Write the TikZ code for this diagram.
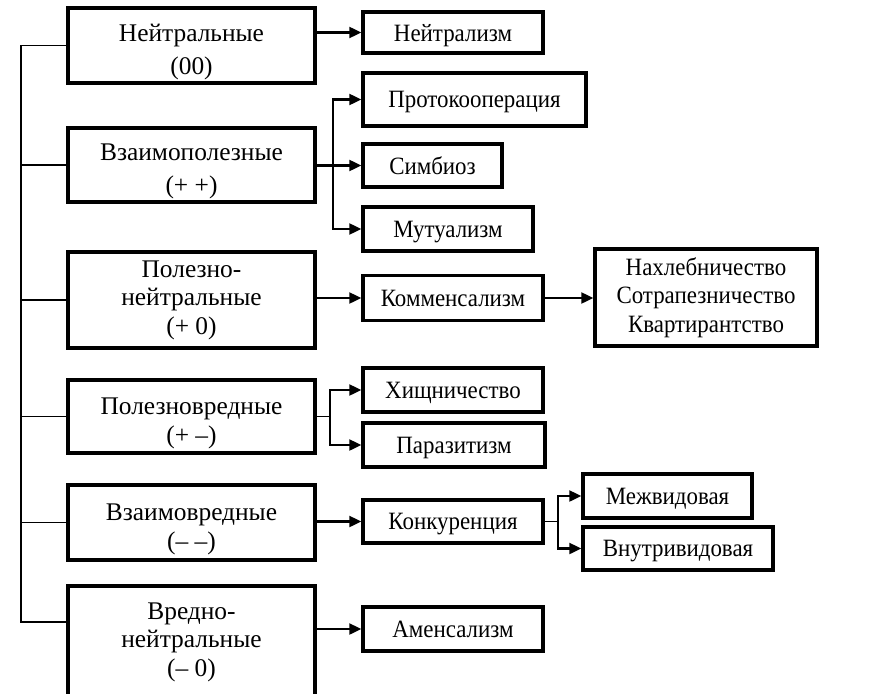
\documentclass[tikz,border=0pt]{standalone}
\usepackage{fontspec}
\setmainfont{Liberation Serif}
\newfontfamily\leaffont[FakeStretch=0.92]{Liberation Serif}
\usetikzlibrary{arrows.meta}

\newcommand\boxpad{\rule{0pt}{30bp}}

\tikzset{
  box/.style={draw, line width=3.5bp, align=center, inner sep=0pt,
    font=\leaffont\fontsize{25}{28.5}\selectfont},
  leaf/.style={box, text depth=0pt},
  typebox/.style={box, minimum width=247bp, font=\rmfamily\fontsize{25.5}{28.5}\selectfont},
  arr/.style={line width=2.4bp, -{Triangle[length=12bp,width=11bp]}},
  fork/.style={line width=1.5bp},
  trunk/.style={line width=1.4bp},
}

\begin{document}
\begin{tikzpicture}[x=1bp, y=-1bp]
    \useasboundingbox (0,0) rectangle (885,694);

    % left column: types of interaction
    \node[typebox, minimum height=75bp] (neutral) at (191.5,45.5) {\boxpad Нейтральные\\[5bp](00)};
    \node[typebox, minimum height=74bp] (mutual) at (191.5,165) {\boxpad Взаимополезные\\[5bp](+ +)};
    \node[typebox, minimum height=96bp] (posneut) at (191.5,300) {Полезно-\\нейтральные\\(+ 0)};
    \node[typebox, minimum height=73bp] (posneg) at (191.5,416.5) {\boxpad Полезновредные\\[1bp](+ –)};
    \node[typebox, minimum height=75bp] (negneg) at (191.5,522.5) {\boxpad Взаимовредные\\[1bp](– –)};
    \node[typebox, minimum height=112bp] (negneut) at (191.5,642) {Вредно-\\нейтральные\\(– 0)};

    % trunk
    \coordinate (top) at (21,45.5);
    \coordinate (bot) at (21,622);
    \draw[trunk] (neutral.west) -- (top) -- (bot) -- (bot -| negneut.west);
    \foreach \n in {mutual, posneut, posneg, negneg}
        \draw[trunk] (\n.west) -- (\n.west -| top);

    % middle column
    \node[leaf, minimum width=180bp, minimum height=41bp] (neutralism) at (453,32.5) {Нейтрализм};
    \node[leaf, minimum width=223bp, minimum height=53bp] (protocoop) at (474.5,99.5) {Протокооперация};
    \node[leaf, minimum width=139bp, minimum height=43bp] (symbiosis) at (432.5,165.5) {Симбиоз};
    \node[leaf, minimum width=170bp, minimum height=44bp] (mutualism) at (448,229) {Мутуализм};
    \node[leaf, minimum width=180bp, minimum height=45bp] (commens) at (453,298) {Комменсализм};
    \node[leaf, minimum width=180bp, minimum height=44bp] (predation) at (453,390) {Хищничество};
    \node[leaf, minimum width=182bp, minimum height=44bp] (parasitism) at (454,445) {Паразитизм};
    \node[leaf, minimum width=180bp, minimum height=43bp] (competition) at (453,521.5) {Конкуренция};
    \node[leaf, minimum width=180bp, minimum height=44bp] (amensalism) at (453,629) {Аменсализм};

    % right column
    \node[box, minimum width=222bp, minimum height=97bp] (forms) at (706,297.5) {Нахлебничество\\Сотрапезничество\\Квартирантство};
    \node[leaf, minimum width=169bp, minimum height=44bp] (inter) at (667.5,496) {Межвидовая};
    \node[leaf, minimum width=190bp, minimum height=43bp] (intra) at (678,548.5) {Внутривидовая};

    % arrows
    \draw[arr] (neutral.east |- neutralism.west) -- (neutralism.west);

    \coordinate (fork2) at (333,165.5);
    \draw[arr] (mutual.east |- symbiosis.west) -- (symbiosis.west);
    \draw[arr] (fork2) |- (protocoop.west);
    \draw[arr] (fork2) |- (mutualism.west);

    \draw[arr] (posneut.east |- commens.west) -- (commens.west);
    \draw[arr] (commens.east) -- (forms.west |- commens.east);

    \coordinate (fork4) at (330,416.5);
    \draw[fork] (posneg.east) -- (fork4);
    \draw[arr] (fork4) |- (predation.west);
    \draw[arr] (fork4) |- (parasitism.west);

    \draw[arr] (negneg.east |- competition.west) -- (competition.west);
    \coordinate (fork5) at (558,521.5);
    \draw[fork] (competition.east) -- (fork5);
    \draw[arr] (fork5) |- (inter.west);
    \draw[arr] (fork5) |- (intra.west);

    \draw[arr] (negneut.east |- amensalism.west) -- (amensalism.west);
\end{tikzpicture}
\end{document}
